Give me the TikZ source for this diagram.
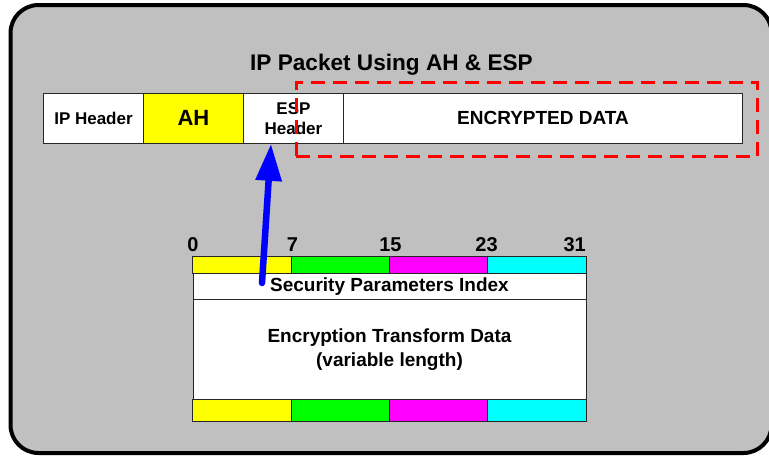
\documentclass[tikz,border=0pt]{standalone}
\usepackage{fontspec}
\setmainfont{Liberation Sans}
\usetikzlibrary{arrows.meta}
\definecolor{bggray}{HTML}{C0C0C0}
\definecolor{cyel}{HTML}{FFFF00}
\definecolor{cgrn}{HTML}{00FF00}
\definecolor{cmag}{HTML}{FF00FF}
\definecolor{ccya}{HTML}{00FFFF}
\definecolor{cred}{HTML}{FF0000}
\definecolor{cblue}{HTML}{0000FF}
\begin{document}
\begin{tikzpicture}[x=1pt,y=-1pt,
  pcell/.style={draw=black!85, line width=1pt, fill=white, minimum height=50pt, inner sep=0pt, align=center,
     font=\bfseries\fontsize{17}{20}\selectfont},
  tcell/.style={draw=black!85, line width=1pt, fill=white, inner sep=0pt, align=center,
     font=\bfseries\fontsize{19}{24}\selectfont},
  bitlabel/.style={font=\bfseries\fontsize{20}{24}\selectfont, inner sep=0pt},
  encbox/.style={draw=cred, line width=3pt, dash pattern=on 14pt off 8pt},
  ptr/.style={draw=cblue, line width=6.5pt, line cap=round, -{Triangle[length=37pt,width=25pt]}}
]
\useasboundingbox (0,0) rectangle (769,456);
% frame
\begin{scope}
\clip (0,0) rectangle (769,456);
\draw[line width=4pt, fill=bggray, rounded corners=28pt] (10.5,5) rectangle (771.5,453);
\end{scope}
% title
\node[font=\bfseries\fontsize{22.6}{26}\selectfont, inner sep=0pt] (title) at (391.5,65) {IP Packet Using AH \& ESP};
% packet
\node[pcell, minimum width=100pt] (iph) at (93.5,118.3) {IP Header};
\node[pcell, minimum width=100pt, fill=cyel, font=\bfseries\fontsize{22}{26}\selectfont] (ah) at (193.5,118.3) {AH};
\node[pcell, minimum width=100pt] (esp) at (293.5,118.3) {ESP\\Header};
\node[pcell, minimum width=399pt, font=\bfseries\fontsize{19}{23}\selectfont] (enc) at (543,118.3) {ENCRYPTED DATA};
% encrypted region
\node[encbox, minimum width=461.5pt, minimum height=74pt, inner sep=0pt] (encr) at (526.75,119.5) {};
% bit labels
\node[bitlabel] (b0) at (193,245) {0};
\node[bitlabel] (b7) at (292.5,245) {7};
\node[bitlabel] (b15) at (390.5,245) {15};
\node[bitlabel] (b23) at (486.5,245) {23};
\node[bitlabel, anchor=east] (b31) at (586,245) {31};
% top colour row
\node[tcell, fill=cyel, minimum width=98.25pt, minimum height=16.6pt] (y1) at (242.1,265) {};
\node[tcell, fill=cgrn, minimum width=98.25pt, minimum height=16.6pt] (g1) at (340.4,265) {};
\node[tcell, fill=cmag, minimum width=98.25pt, minimum height=16.6pt] (m1) at (438.6,265) {};
\node[tcell, fill=ccya, minimum width=98.25pt, minimum height=16.6pt] (c1) at (536.9,265) {};
% SPI
\node[tcell, minimum width=393pt, minimum height=26pt] (spi) at (389.5,286.3) {Security Parameters Index};
% transform data
\node[tcell, minimum width=393pt, minimum height=100pt] (etd) at (389.5,349.3) {Encryption Transform Data\\(variable length)};
% bottom colour row
\node[tcell, fill=cyel, minimum width=98.25pt, minimum height=21.7pt] (y2) at (242.1,410.2) {};
\node[tcell, fill=cgrn, minimum width=98.25pt, minimum height=21.7pt] (g2) at (340.4,410.2) {};
\node[tcell, fill=cmag, minimum width=98.25pt, minimum height=21.7pt] (m2) at (438.6,410.2) {};
\node[tcell, fill=ccya, minimum width=98.25pt, minimum height=21.7pt] (c2) at (536.9,410.2) {};
% pointer arrow
\coordinate (tail) at (262,283);
\coordinate (tip) at ([xshift=-22.5pt]esp.south);
\draw[ptr] (tail) -- (tip);
\end{tikzpicture}
\end{document}
